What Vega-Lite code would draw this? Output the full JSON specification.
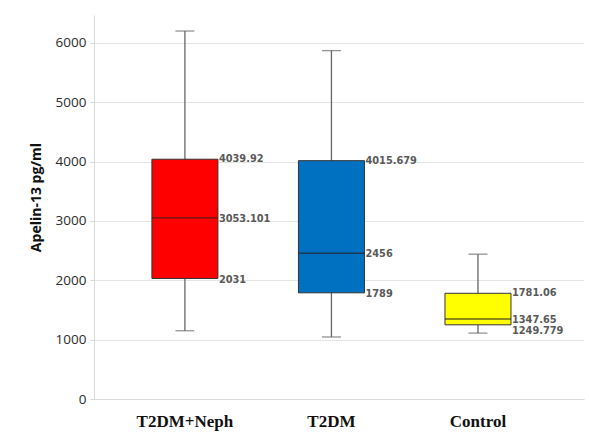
{
  "$schema": "https://vega.github.io/schema/vega-lite/v6.json",
  "width": 490,
  "height": 384,
  "autosize": {"type": "none"},
  "padding": {"left": 94, "top": 15, "right": 5, "bottom": 40},
  "background": "white",
  "config": {
    "view": {"stroke": null},
    "axis": {"gridColor": "#e4e4e4", "domainColor": "#d9d9d9", "tickColor": "#d9d9d9"}
  },
  "data": {
    "values": [
      {"group": "T2DM+Neph", "min": 1150, "q1": 2031, "median": 3053.101, "q3": 4039.92, "max": 6200},
      {"group": "T2DM", "min": 1045, "q1": 1789, "median": 2456, "q3": 4015.679, "max": 5870},
      {"group": "Control", "min": 1110, "q1": 1249.779, "median": 1347.65, "q3": 1781.06, "max": 2440}
    ]
  },
  "encoding": {
    "x": {
      "field": "group",
      "type": "nominal",
      "sort": ["T2DM+Neph", "T2DM", "Control"],
      "scale": {"paddingInner": 0, "paddingOuter": 0.172, "align": 0.35},
      "axis": {
        "title": null,
        "ticks": false,
        "grid": false,
        "labelAngle": 0,
        "labelFont": "Liberation Serif",
        "labelFontWeight": "bold",
        "labelFontSize": 17,
        "labelColor": "#111111",
        "labelPadding": 14,
        "encode": {
          "labels": {
            "update": {
              "dx": {"signal": "datum.value === 'T2DM+Neph' ? -17 : datum.value === 'T2DM' ? 29 : 45"}
            }
          }
        }
      }
    }
  },
  "layer": [
    {
      "mark": {"type": "rule", "color": "#666666", "strokeWidth": 1.3},
      "encoding": {
        "y": {
          "field": "min",
          "type": "quantitative",
          "title": "Apelin-13 pg/ml",
          "scale": {"domain": [0, 6470], "nice": false},
          "axis": {
            "values": [0, 1000, 2000, 3000, 4000, 5000, 6000],
            "format": "d",
            "grid": true,
            "tickSize": 4,
            "labelPadding": 4,
            "labelFont": "Open Sans",
            "labelFontSize": 13.5,
            "labelColor": "#2b2b2b",
            "titleFont": "Open Sans",
            "titleFontWeight": "bold",
            "titleFontSize": 14,
            "titleColor": "#111111",
            "titlePadding": 12,
            "titleY": 182
          }
        },
        "y2": {"field": "max"}
      }
    },
    {
      "mark": {"type": "tick", "color": "#666666", "size": 19, "thickness": 1.3},
      "encoding": {"y": {"field": "max", "type": "quantitative", "title": "Apelin-13 pg/ml"}}
    },
    {
      "mark": {"type": "tick", "color": "#666666", "size": 19, "thickness": 1.3},
      "encoding": {"y": {"field": "min", "type": "quantitative", "title": "Apelin-13 pg/ml"}}
    },
    {
      "mark": {"type": "bar", "size": 66, "stroke": "#333333", "strokeWidth": 1},
      "encoding": {
        "y": {"field": "q1", "type": "quantitative", "title": "Apelin-13 pg/ml"},
        "y2": {"field": "q3"},
        "color": {
          "field": "group",
          "type": "nominal",
          "scale": {"domain": ["T2DM+Neph", "T2DM", "Control"], "range": ["#FF0000", "#0070C0", "#FFFF00"]},
          "legend": null
        }
      }
    },
    {
      "mark": {"type": "tick", "color": "#222222", "size": 66, "thickness": 1.3},
      "encoding": {"y": {"field": "median", "type": "quantitative", "title": "Apelin-13 pg/ml"}}
    },
    {
      "mark": {"type": "text", "align": "left", "baseline": "middle", "dx": 34, "font": "DejaVu Sans", "fontWeight": "bold", "fontSize": 9.8, "color": "#595959"},
      "encoding": {
        "y": {"field": "q3", "type": "quantitative", "title": "Apelin-13 pg/ml"},
        "text": {"field": "q3", "type": "nominal"}
      }
    },
    {
      "mark": {"type": "text", "align": "left", "baseline": "middle", "dx": 34, "dy": 1, "font": "DejaVu Sans", "fontWeight": "bold", "fontSize": 9.8, "color": "#595959"},
      "encoding": {
        "y": {"field": "median", "type": "quantitative", "title": "Apelin-13 pg/ml"},
        "text": {"field": "median", "type": "nominal"}
      }
    },
    {
      "transform": [{"filter": "datum.group !== 'Control'"}],
      "mark": {"type": "text", "align": "left", "baseline": "middle", "dx": 34, "dy": 1.5, "font": "DejaVu Sans", "fontWeight": "bold", "fontSize": 9.8, "color": "#595959"},
      "encoding": {
        "y": {"field": "q1", "type": "quantitative", "title": "Apelin-13 pg/ml"},
        "text": {"field": "q1", "type": "nominal"}
      }
    },
    {
      "transform": [{"filter": "datum.group === 'Control'"}],
      "mark": {"type": "text", "align": "left", "baseline": "middle", "dx": 34, "dy": 6, "font": "DejaVu Sans", "fontWeight": "bold", "fontSize": 9.8, "color": "#595959"},
      "encoding": {
        "y": {"field": "q1", "type": "quantitative", "title": "Apelin-13 pg/ml"},
        "text": {"field": "q1", "type": "nominal"}
      }
    }
  ]
}
